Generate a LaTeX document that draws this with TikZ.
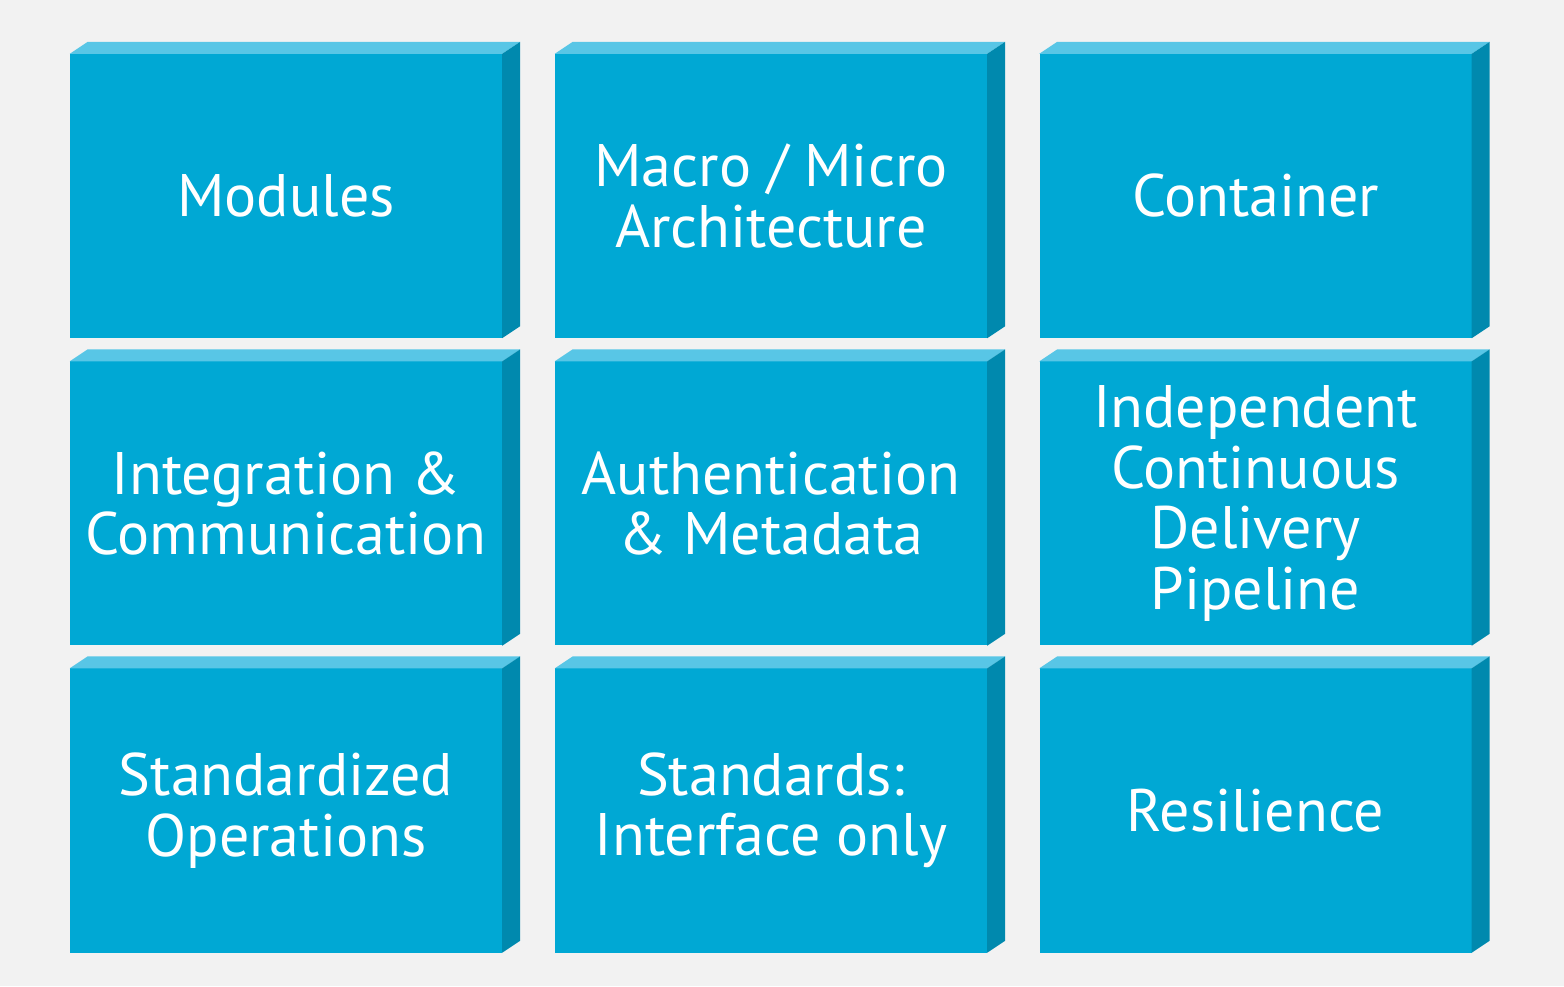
\documentclass[tikz,border=0pt]{standalone}
\usepackage{fontspec}
\setmainfont{PT Sans}
\definecolor{bgc}{HTML}{F2F2F2}
\definecolor{frontc}{HTML}{00A8D4}
\definecolor{topc}{HTML}{58C6E6}
\definecolor{sidec}{HTML}{0089AE}
\begin{document}
\begin{tikzpicture}[x=1pt,y=1pt,
  front/.style={fill=frontc, minimum width=432pt, minimum height=284pt, inner sep=0pt,
    text=white, align=center, font=\fontsize{60}{60.5}\selectfont},
  topface/.style={fill=topc},
  sideface/.style={fill=sidec}]
\fill[bgc] (0,0) rectangle (1564,986);
\node[front] (b1) at (286,790) {Modules};
\node[front] (b2) at (771,790) {Macro / Micro\\Architecture};
\node[front] (b3) at (1255.5,790) {Container};
\node[front] (b4) at (286,482.5) {Integration \&\\Communication};
\node[front] (b5) at (771,482.5) {Authentication\\\& Metadata};
\node[front] (b6) at (1255.5,482.5) {Independent\\Continuous\\Delivery\\Pipeline};
\node[front] (b7) at (286,175.5) {Standardized\\Operations};
\node[front] (b8) at (771,175.5) {Standards:\\Interface only};
\node[front] (b9) at (1255.5,175.5) {Resilience};
\foreach \n in {b1,b2,b3,b4,b5,b6,b7,b8,b9}{
  \fill[topface] (\n.north west) -- ++(18,12) -- ([shift={(18,12)}]\n.north east) -- (\n.north east) -- cycle;
  \fill[sideface] (\n.north east) -- ++(18,12) -- ([shift={(18,12)}]\n.south east) -- (\n.south east) -- cycle;
}
\end{tikzpicture}
\end{document}
